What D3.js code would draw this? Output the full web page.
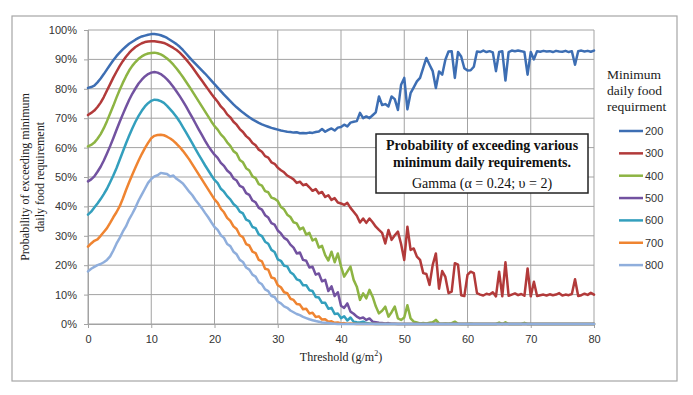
<!DOCTYPE html>
<html><head><meta charset="utf-8">
<script src="https://cdn.jsdelivr.net/npm/d3@7"></script>
<style>body{margin:0;background:#fff}</style>
</head><body>
<svg id="chart" width="693" height="395"></svg>
<script>
const thresholds = [
 0,0.5,1,1.5,2,2.5,3,3.5,4,4.5,5,5.5,6,6.5,7,7.5,8,8.5,9,9.5,
 10,10.5,11,11.5,12,12.5,13,13.5,14,14.5,15,15.5,16,16.5,17,17.5,18,18.5,19,19.5,
 20,20.5,21,21.5,22,22.5,23,23.5,24,24.5,25,25.5,26,26.5,27,27.5,28,28.5,29,29.5,
 30,30.5,31,31.5,32,32.5,33,33.5,34,34.5,35,35.5,36,36.5,37,37.5,38,38.5,39,39.5,
 40,40.5,41,41.5,42,42.5,43,43.5,44,44.5,45,45.5,46,46.5,47,47.5,48,48.5,49,49.5,
 50,50.5,51,51.5,52,52.5,53,53.5,54,54.5,55,55.5,56,56.5,57,57.5,58,58.5,59,59.5,
 60,60.5,61,61.5,62,62.5,63,63.5,64,64.5,65,65.5,66,66.5,67,67.5,68,68.5,69,69.5,
 70,70.5,71,71.5,72,72.5,73,73.5,74,74.5,75,75.5,76,76.5,77,77.5,78,78.5,79,79.5,
 80];

const seriesNames = ["200","300","400","500","600","700","800"];

const req200 = [
 80.3,80.6,81.1,82.2,83.5,85.0,86.6,88.2,89.7,91.1,92.3,93.4,94.4,95.3,96.0,96.7,97.3,97.8,98.1,98.4,
 98.6,98.6,98.5,98.2,97.8,97.3,96.6,95.9,95.2,94.3,93.2,92.0,90.8,89.6,88.5,87.4,86.3,85.2,84.0,82.8,
 81.6,80.4,79.2,78.0,76.9,75.8,74.7,73.7,72.8,71.9,71.1,70.3,69.6,69.0,68.4,67.9,67.5,67.1,66.7,66.4,
 66.1,65.8,65.6,65.4,65.3,65.1,65.2,64.9,65.0,64.9,65.1,65.0,65.3,65.5,66.3,65.4,66.0,66.5,65.8,66.8,
 67.0,67.8,67.2,68.5,68.8,69.0,71.8,70.0,70.6,70.0,71.0,72.0,77.4,74.5,74.8,74.0,77.4,76.5,72.8,81.4,
 83.7,73.0,78.5,80.5,82.5,83.7,87.1,90.5,88.2,86.0,80.3,85.9,84.8,89.9,92.7,92.8,83.7,92.5,91.0,87.0,
 86.2,86.3,87.5,92.7,92.5,93.0,92.5,92.8,92.4,86.0,92.5,92.8,82.8,92.5,93.0,92.8,93.0,92.8,92.5,84.8,
 92.5,90.0,92.8,92.6,92.9,92.7,92.8,92.5,92.9,92.7,92.6,92.9,92.5,92.8,88.2,92.8,93.0,92.7,92.9,92.6,
 93.0];

const req300 = [
 71.1,71.8,72.6,73.8,75.3,77.2,79.4,81.6,83.8,85.8,87.7,89.4,90.9,92.2,93.3,94.2,94.9,95.5,95.9,96.1,
 96.2,96.2,96.0,95.8,95.6,95.1,94.5,93.9,93.2,92.3,91.2,90.0,88.7,87.3,85.8,84.3,82.8,81.3,79.8,78.3,
 76.9,75.6,74.0,72.9,71.3,70.3,68.8,67.8,66.3,65.3,63.9,63.0,61.6,60.8,59.3,58.6,57.1,56.6,55.0,54.5,
 53.2,52.3,51.6,50.5,49.9,49.2,48.0,48.4,47.2,47.6,46.5,45.3,45.9,44.4,44.9,43.2,43.8,42.2,42.8,41.3,
 41.0,40.5,41.2,39.5,38.2,36.8,34.5,35.9,34.4,35.9,34.6,33.1,32.0,31.0,27.4,32.0,28.6,30.2,31.4,27.2,
 21.8,33.1,25.2,25.7,22.9,21.8,17.3,17.0,13.3,20.1,24.0,12.0,18.0,16.0,10.5,11.0,20.7,20.2,9.8,9.5,
 16.7,17.8,17.3,10.5,10.0,9.7,10.3,10.0,10.8,9.4,17.8,9.4,21.0,9.6,10.0,10.4,9.8,10.2,9.6,18.9,
 9.4,14.4,9.5,9.8,10.0,9.7,10.1,9.8,10.0,10.5,9.7,10.0,9.8,10.2,15.2,9.5,9.8,10.3,9.9,10.6,
 10.0];

const req400 = [
 60.4,60.9,61.7,63.0,64.6,66.6,69.0,71.6,74.2,77.0,79.6,82.0,84.2,86.2,87.8,89.1,90.2,91.0,91.6,92.0,
 92.2,92.3,92.1,91.7,91.1,90.3,89.3,88.2,86.9,85.5,84.0,82.4,80.8,79.1,77.4,75.7,74.0,72.3,70.6,68.9,
 67.3,66.1,64.5,63.4,61.8,60.6,58.8,58.0,55.8,55.0,53.0,52.2,50.2,49.6,47.6,47.1,45.2,44.8,43.0,42.6,
 41.8,39.8,39.0,37.2,36.4,34.6,34.2,32.2,32.8,30.4,31.0,28.4,29.0,26.0,26.6,23.4,21.6,24.6,21.0,24.0,
 19.6,16.1,17.8,19.5,15.0,12.7,8.2,10.4,8.7,11.6,9.3,6.0,3.6,4.5,5.9,2.5,4.0,5.9,1.9,1.4,
 2.2,6.4,1.9,0.8,0.5,0.2,0.3,0.2,0.4,0.6,1.4,0.2,0.1,0.2,0.1,0.3,0.8,0.1,0.0,0.0,
 0.0,0.1,0.0,0.0,0.0,0.0,0.0,0.0,0.0,0.0,0.5,0.0,0.6,0.0,0.0,0.0,0.0,0.0,0.4,0.0,
 0.0,0.0,0.0,0.0,0.0,0.0,0.0,0.0,0.0,0.0,0.0,0.0,0.0,0.0,0.0,0.0,0.0,0.0,0.0,0.0,
 0.0];

const req500 = [
 48.5,49.2,50.2,51.8,53.5,55.6,58.0,60.5,63.2,66.0,68.7,71.3,73.8,76.2,78.3,80.1,81.8,83.1,84.2,85.0,
 85.5,85.7,85.5,85.0,84.2,83.2,82.0,80.6,79.1,77.5,75.8,74.0,72.1,70.2,68.2,66.2,64.3,62.4,60.6,59.0,
 57.6,56.5,54.8,53.8,52.2,51.3,49.5,48.8,47.0,46.5,44.5,43.9,42.0,41.4,39.5,38.9,37.0,36.2,34.3,33.8,
 31.8,30.8,29.3,28.6,27.0,26.0,24.0,24.3,21.8,21.5,19.2,19.5,16.8,17.2,14.5,15.0,11.2,12.8,9.5,10.8,
 6.2,5.5,7.0,4.2,3.5,2.5,1.9,2.2,1.4,1.9,0.8,0.6,0.4,0.3,0.2,0.3,0.1,0.1,0.0,0.0,
 0.0,0.0,0.0,0.0,0.0,0.0,0.0,0.0,0.0,0.0,0.0,0.0,0.0,0.0,0.0,0.0,0.0,0.0,0.0,0.0,
 0.0,0.0,0.0,0.0,0.0,0.0,0.0,0.0,0.0,0.0,0.0,0.0,0.0,0.0,0.0,0.0,0.0,0.0,0.0,0.0,
 0.0,0.0,0.0,0.0,0.0,0.0,0.0,0.0,0.0,0.0,0.0,0.0,0.0,0.0,0.0,0.0,0.0,0.0,0.0,0.0,
 0.0];

const req600 = [
 37.2,38.2,39.6,41.0,42.5,44.2,46.0,48.2,50.5,53.0,55.8,58.6,61.4,64.0,66.5,68.8,70.8,72.5,74.0,75.1,
 75.9,76.3,76.2,75.8,75.2,74.2,73.0,71.8,70.4,68.8,67.0,65.2,63.3,61.4,59.5,57.6,55.8,54.0,52.3,50.6,
 49.0,47.9,46.0,45.0,43.5,42.4,40.8,39.9,38.2,37.6,35.5,35.0,33.0,32.6,30.5,29.9,28.0,27.3,25.2,24.5,
 22.0,21.5,19.8,19.6,17.6,16.8,15.2,14.8,13.2,13.2,11.5,11.2,9.2,9.0,7.2,7.2,5.2,5.5,3.4,3.6,
 2.0,2.6,1.2,2.2,0.8,0.6,0.5,0.8,0.3,0.2,0.1,0.0,0.0,0.0,0.0,0.0,0.0,0.0,0.0,0.0,
 0.0,0.0,0.0,0.0,0.0,0.0,0.0,0.0,0.0,0.0,0.0,0.0,0.0,0.0,0.0,0.0,0.0,0.0,0.0,0.0,
 0.0,0.0,0.0,0.0,0.0,0.0,0.0,0.0,0.0,0.0,0.0,0.0,0.0,0.0,0.0,0.0,0.0,0.0,0.0,0.0,
 0.0,0.0,0.0,0.0,0.0,0.0,0.0,0.0,0.0,0.0,0.0,0.0,0.0,0.0,0.0,0.0,0.0,0.0,0.0,0.0,
 0.0];

const req700 = [
 26.3,27.4,28.3,28.8,30.0,31.3,32.6,34.4,36.3,38.0,40.0,42.6,45.5,48.2,50.8,53.2,55.6,57.8,59.8,61.6,
 63.2,64.0,64.3,64.4,64.2,63.7,63.1,62.3,61.3,60.2,58.9,57.5,56.0,54.3,52.6,50.9,49.2,47.5,45.8,44.1,
 42.4,41.2,39.2,38.0,36.1,35.1,33.2,32.3,30.2,29.5,27.2,26.7,24.6,24.1,21.8,21.3,18.8,18.5,15.8,15.5,
 13.2,12.5,10.8,10.5,8.6,8.2,6.8,6.6,5.0,5.2,3.6,3.8,2.4,2.6,1.5,1.6,0.8,0.9,0.4,0.5,
 0.2,0.3,0.1,0.2,0.1,0.0,0.0,0.0,0.0,0.0,0.0,0.0,0.0,0.0,0.0,0.0,0.0,0.0,0.0,0.0,
 0.0,0.0,0.0,0.0,0.0,0.0,0.0,0.0,0.0,0.0,0.0,0.0,0.0,0.0,0.0,0.0,0.0,0.0,0.0,0.0,
 0.0,0.0,0.0,0.0,0.0,0.0,0.0,0.0,0.0,0.0,0.0,0.0,0.0,0.0,0.0,0.0,0.0,0.0,0.0,0.0,
 0.0,0.0,0.0,0.0,0.0,0.0,0.0,0.0,0.0,0.0,0.0,0.0,0.0,0.0,0.0,0.0,0.0,0.0,0.0,0.0,
 0.0];

const req800 = [
 17.9,18.8,19.4,20.0,20.4,21.0,21.8,23.0,25.0,27.3,29.2,31.4,33.2,35.6,37.5,39.6,42.0,44.0,46.0,48.0,
 49.3,50.2,50.6,51.4,51.2,51.0,50.2,50.5,49.4,48.6,47.8,46.4,45.0,43.8,42.2,40.8,39.4,37.8,36.3,34.6,
 33.0,32.0,30.2,29.3,27.2,26.5,24.6,23.7,21.8,21.1,19.2,18.5,16.8,16.1,14.2,13.5,11.8,11.2,9.5,9.2,
 7.6,7.0,6.0,5.5,4.6,4.0,3.4,3.0,2.4,2.0,1.6,1.3,1.0,0.8,0.5,0.4,0.3,0.2,0.1,0.0,
 0.0,0.0,0.0,0.0,0.0,0.0,0.0,0.0,0.0,0.0,0.0,0.0,0.0,0.0,0.0,0.0,0.0,0.0,0.0,0.0,
 0.0,0.0,0.0,0.0,0.0,0.0,0.0,0.0,0.0,0.0,0.0,0.0,0.0,0.0,0.0,0.0,0.0,0.0,0.0,0.0,
 0.0,0.0,0.0,0.0,0.0,0.0,0.0,0.0,0.0,0.0,0.0,0.0,0.0,0.0,0.0,0.0,0.0,0.0,0.0,0.0,
 0.0,0.0,0.0,0.0,0.0,0.0,0.0,0.0,0.0,0.0,0.0,0.0,0.0,0.0,0.0,0.0,0.0,0.0,0.0,0.0,
 0.0];

const xTicks = [0,10,20,30,40,50,60,70,80];
const yTicks = [0,10,20,30,40,50,60,70,80,90,100];
const colors = ["#3D6EB3","#B23A3A","#8DB443","#7252A0","#339FBD","#EF8431","#8FAEDC"];
const allSeries = [req200,req300,req400,req500,req600,req700,req800];

const svg = d3.select("#chart");
const sans = "'Liberation Sans', Arial, sans-serif";
const serif = "'Liberation Serif', 'Times New Roman', serif";

svg.append("rect").attr("x",12).attr("y",16).attr("width",665).attr("height",365)
  .attr("fill","#fff").attr("stroke","#A6A6A6").attr("stroke-width",1.2);

const x = d3.scaleLinear().domain([0,80]).range([88,594]);
const y = d3.scaleLinear().domain([0,100]).range([324,30]);

const gridColor = "#A3A3A3";
svg.append("g").selectAll("line.h").data(yTicks).join("line")
  .attr("x1",x(0)).attr("x2",x(80)).attr("y1",d=>y(d)).attr("y2",d=>y(d))
  .attr("stroke",gridColor).attr("stroke-width",1);
svg.append("g").selectAll("line.v").data(xTicks).join("line")
  .attr("x1",d=>x(d)).attr("x2",d=>x(d)).attr("y1",y(0)).attr("y2",y(100))
  .attr("stroke",gridColor).attr("stroke-width",1);

const xAxis = svg.append("g").attr("transform",`translate(0,${y(0)})`)
  .call(d3.axisBottom(x).tickValues(xTicks).tickSize(4).tickPadding(7.5).tickFormat(d=>d));
const yAxis = svg.append("g").attr("transform",`translate(${x(0)},0)`)
  .call(d3.axisLeft(y).tickValues(yTicks).tickSize(4).tickPadding(7).tickFormat(d=>d+"%"));
[xAxis,yAxis].forEach(g=>{
  g.select(".domain").attr("stroke",gridColor);
  g.selectAll(".tick line").attr("stroke",gridColor);
  g.selectAll("text").attr("font-family",sans).attr("font-size",11).attr("fill","#333");
});

const line = d3.line().x((d,i)=>x(thresholds[i])).y(d=>y(d));
svg.append("g").selectAll("path").data(allSeries).join("path")
  .attr("d",line).attr("fill","none")
  .attr("stroke",(d,i)=>colors[i]).attr("stroke-width",2.5)
  .attr("stroke-linejoin","round").attr("stroke-linecap","round");

const xt = svg.append("text").attr("x",341).attr("y",361).attr("text-anchor","middle")
  .attr("font-family",serif).attr("font-size",12).attr("fill","#222");
xt.append("tspan").text("Threshold (g/m");
xt.append("tspan").attr("font-size",8).attr("dy",-5).text("2");
xt.append("tspan").attr("dy",5).text(")");

const ytl = ["Probability of exceeding minimum","daily food requirement"];
svg.append("g").selectAll("text").data(ytl).join("text")
  .attr("transform",(d,i)=>`translate(${29+i*14.5},177) rotate(-90)`)
  .attr("text-anchor","middle").attr("font-family",serif).attr("font-size",12)
  .attr("fill","#222").text(d=>d);

svg.append("rect").attr("x",376).attr("y",134).attr("width",212).attr("height",59)
  .attr("fill","#fff").attr("stroke","#222").attr("stroke-width",1.5);
const ann = [
  {t:"Probability of exceeding various", w:"bold", yy:150},
  {t:"minimum daily requirements.", w:"bold", yy:167},
  {t:"Gamma (\u03b1 = 0.24; \u03c5 = 2)", w:"normal", yy:187.5}
];
svg.append("g").selectAll("text").data(ann).join("text")
  .attr("x",482).attr("y",d=>d.yy).attr("text-anchor","middle")
  .attr("font-family",serif).attr("font-size",14).attr("font-weight",d=>d.w)
  .attr("fill","#111").text(d=>d.t);

const legTitle = ["Minimum","daily food","requirment"];
svg.append("g").selectAll("text").data(legTitle).join("text")
  .attr("x",607).attr("y",(d,i)=>79+i*15.8)
  .attr("font-family",serif).attr("font-size",13.5).attr("fill","#222").text(d=>d);
const leg = svg.append("g").selectAll("g").data(seriesNames).join("g")
  .attr("transform",(d,i)=>`translate(0,${131+i*22.35})`);
leg.append("line").attr("x1",619).attr("x2",643).attr("y1",0).attr("y2",0)
  .attr("stroke",(d,i)=>colors[i]).attr("stroke-width",2.5);
leg.append("text").attr("x",645).attr("y",4).attr("font-family",sans).attr("font-size",11)
  .attr("fill","#333").text(d=>d);
</script>
</body></html>
